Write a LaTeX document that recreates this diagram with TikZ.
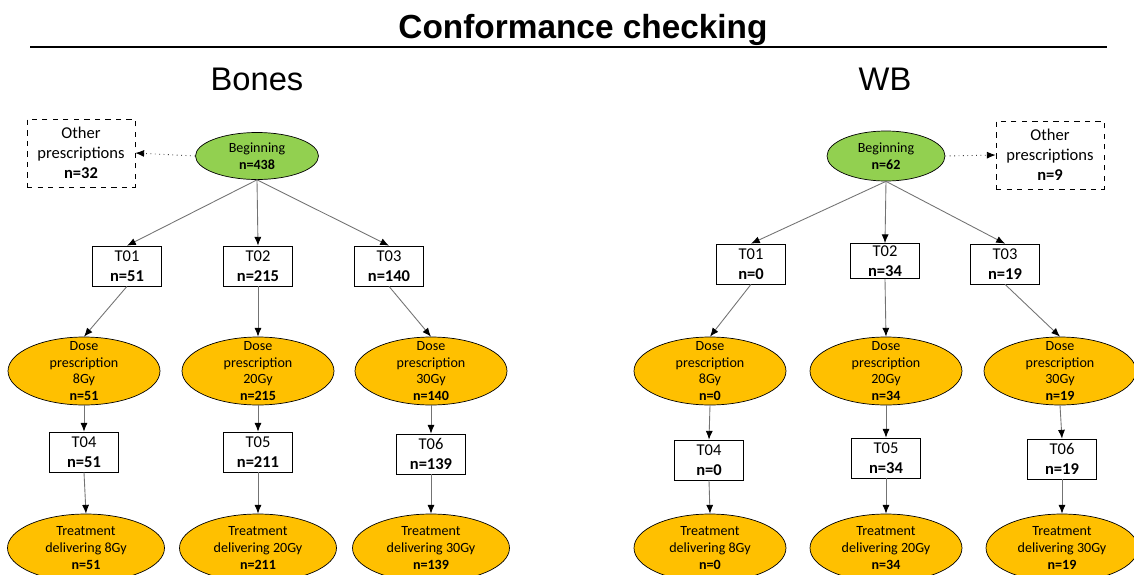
\documentclass[tikz,border=0pt]{standalone}
\usepackage{fontspec}
\setmainfont{Carlito}
\newfontfamily\arialfont{Liberation Sans}
\usetikzlibrary{shapes.geometric,arrows.meta}
\definecolor{vert}{HTML}{92D050}
\definecolor{jaune}{HTML}{FFC000}

\begin{document}
\begin{tikzpicture}[x=0.02cm, y=-0.02cm, >={Latex[black,length=5pt,width=4pt]}, font=\fontsize{9.4}{11.3}\selectfont]
        \tikzstyle{boite} = [rectangle, draw=black, thin, align=center, inner sep=0pt,
                            minimum width=1.38cm, minimum height=0.8cm]
        \tikzstyle{autre} = [rectangle, draw=black, dashed, thin, align=center, inner sep=0pt,
                            minimum width=2.16cm, minimum height=1.36cm]
        \tikzstyle{debut} = [ellipse, draw=black, fill=vert, inner sep=0pt, align=center,
                            font=\fontsize{8}{9.6}\selectfont]
        \tikzstyle{dose} = [ellipse, draw=black, fill=jaune, inner sep=0pt,
                            minimum width=3.04cm, minimum height=1.36cm]
        \tikzstyle{petit} = [font=\fontsize{8}{9.6}\selectfont, align=center, inner sep=0pt]
        \tikzstyle{fleche} = [->, draw=black!55, line width=0.5pt]

        \useasboundingbox (0,0) rectangle (1134,575);
        \clip (0,0) rectangle (1134,575);

        % Titres
        \node[font=\arialfont\bfseries\fontsize{19}{22}\selectfont] (titre) at (583,30) {Conformance checking};
        \draw[line width=1.6pt] (30,47) -- (1107,47);
        \node[font=\arialfont\fontsize{18.6}{22}\selectfont] (bones) at (257,79) {Bones};
        \node[font=\arialfont\fontsize{18.6}{22}\selectfont] (wb) at (885,79) {WB};

        % Noeuds Bones
        \node[debut, minimum width=2.46cm, minimum height=0.94cm] (begB) at (257,156) {Beginning\\\textbf{n=438}};
        \node[autre] (autreB) at (81,153) {Other\\prescriptions\\\textbf{n=32}};
        \node[boite] (t01B) at (127,266) {T01\\\textbf{n=51}};
        \node[boite] (t02B) at (258,266) {T02\\\textbf{n=215}};
        \node[boite] (t03B) at (389,266) {T03\\\textbf{n=140}};
        \node[dose, label={[petit]center:{Dose\\prescription\\8Gy\\\textbf{n=51}}}] (d1B) at (84,371) {};
        \node[dose, label={[petit]center:{Dose\\prescription\\20Gy\\\textbf{n=215}}}] (d2B) at (258,371) {};
        \node[dose, label={[petit]center:{Dose\\prescription\\30Gy\\\textbf{n=140}}}] (d3B) at (431,371) {};
        \node[boite] (t04B) at (84,452) {T04\\\textbf{n=51}};
        \node[boite] (t05B) at (258,452) {T05\\\textbf{n=211}};
        \node[boite] (t06B) at (431,454) {T06\\\textbf{n=139}};
        \node[dose, minimum width=3.14cm, label={[petit]center:{Treatment\\delivering 8Gy\\\textbf{n=51}}}] (tr1B) at (86,548) {};
        \node[dose, minimum width=3.14cm, label={[petit]center:{Treatment\\delivering 20Gy\\\textbf{n=211}}}] (tr2B) at (258,548) {};
        \node[dose, minimum width=3.14cm, label={[petit]center:{Treatment\\delivering 30Gy\\\textbf{n=139}}}] (tr3B) at (431,548) {};

        % Noeuds WB
        \node[debut, minimum width=2.36cm, minimum height=1.0cm] (begW) at (886,156) {Beginning\\\textbf{n=62}};
        \node[autre] (autreW) at (1050,155) {Other\\prescriptions\\\textbf{n=9}};
        \node[boite] (t01W) at (751,264) {T01\\\textbf{n=0}};
        \node[boite, minimum height=0.7cm] (t02W) at (885,261) {T02\\\textbf{n=34}};
        \node[boite] (t03W) at (1005,264) {T03\\\textbf{n=19}};
        \node[dose, label={[petit]center:{Dose\\prescription\\8Gy\\\textbf{n=0}}}] (d1W) at (710,371) {};
        \node[dose, label={[petit]center:{Dose\\prescription\\20Gy\\\textbf{n=34}}}] (d2W) at (886,371) {};
        \node[dose, label={[petit]center:{Dose\\prescription\\30Gy\\\textbf{n=19}}}] (d3W) at (1060,371) {};
        \node[boite] (t04W) at (709,460) {T04\\\textbf{n=0}};
        \node[boite] (t05W) at (886,458) {T05\\\textbf{n=34}};
        \node[boite] (t06W) at (1062,459) {T06\\\textbf{n=19}};
        \node[dose, label={[petit]center:{Treatment\\delivering 8Gy\\\textbf{n=0}}}] (tr1W) at (710,548) {};
        \node[dose, label={[petit]center:{Treatment\\delivering 20Gy\\\textbf{n=34}}}] (tr2W) at (886,548) {};
        \node[dose, label={[petit]center:{Treatment\\delivering 30Gy\\\textbf{n=19}}}] (tr3W) at (1062,548) {};

        % Flèches
        \draw[fleche, dotted, draw=black!75] (begB.west) -- (autreB.east);
        \draw[fleche] (begB.south) -- (t01B.north);
        \draw[fleche] (begB.south) -- (t02B.north);
        \draw[fleche] (begB.south) -- (t03B.north);
        \draw[fleche] (t01B.south) -- (d1B.north);
        \draw[fleche] (t02B.south) -- (d2B.north);
        \draw[fleche] (t03B.south) -- (d3B.north);
        \draw[fleche] (d1B.south) -- (t04B.north);
        \draw[fleche] (d2B.south) -- (t05B.north);
        \draw[fleche] (d3B.south) -- (t06B.north);
        \draw[fleche] (t04B.south) -- (tr1B.north);
        \draw[fleche] (t05B.south) -- (tr2B.north);
        \draw[fleche] (t06B.south) -- (tr3B.north);

        \draw[fleche, dotted, draw=black!75] (begW.east) -- (autreW.west);
        \draw[fleche] (begW.south) -- (t01W.north);
        \draw[fleche] (begW.south) -- (t02W.north);
        \draw[fleche] (begW.south) -- (t03W.north);
        \draw[fleche] (t01W.south) -- (d1W.north);
        \draw[fleche] (t02W.south) -- (d2W.north);
        \draw[fleche] (t03W.south) -- (d3W.north);
        \draw[fleche] (d1W.south) -- (t04W.north);
        \draw[fleche] (d2W.south) -- (t05W.north);
        \draw[fleche] (d3W.south) -- (t06W.north);
        \draw[fleche] (t04W.south) -- (tr1W.north);
        \draw[fleche] (t05W.south) -- (tr2W.north);
        \draw[fleche] (t06W.south) -- (tr3W.north);
    \end{tikzpicture}
\end{document}
